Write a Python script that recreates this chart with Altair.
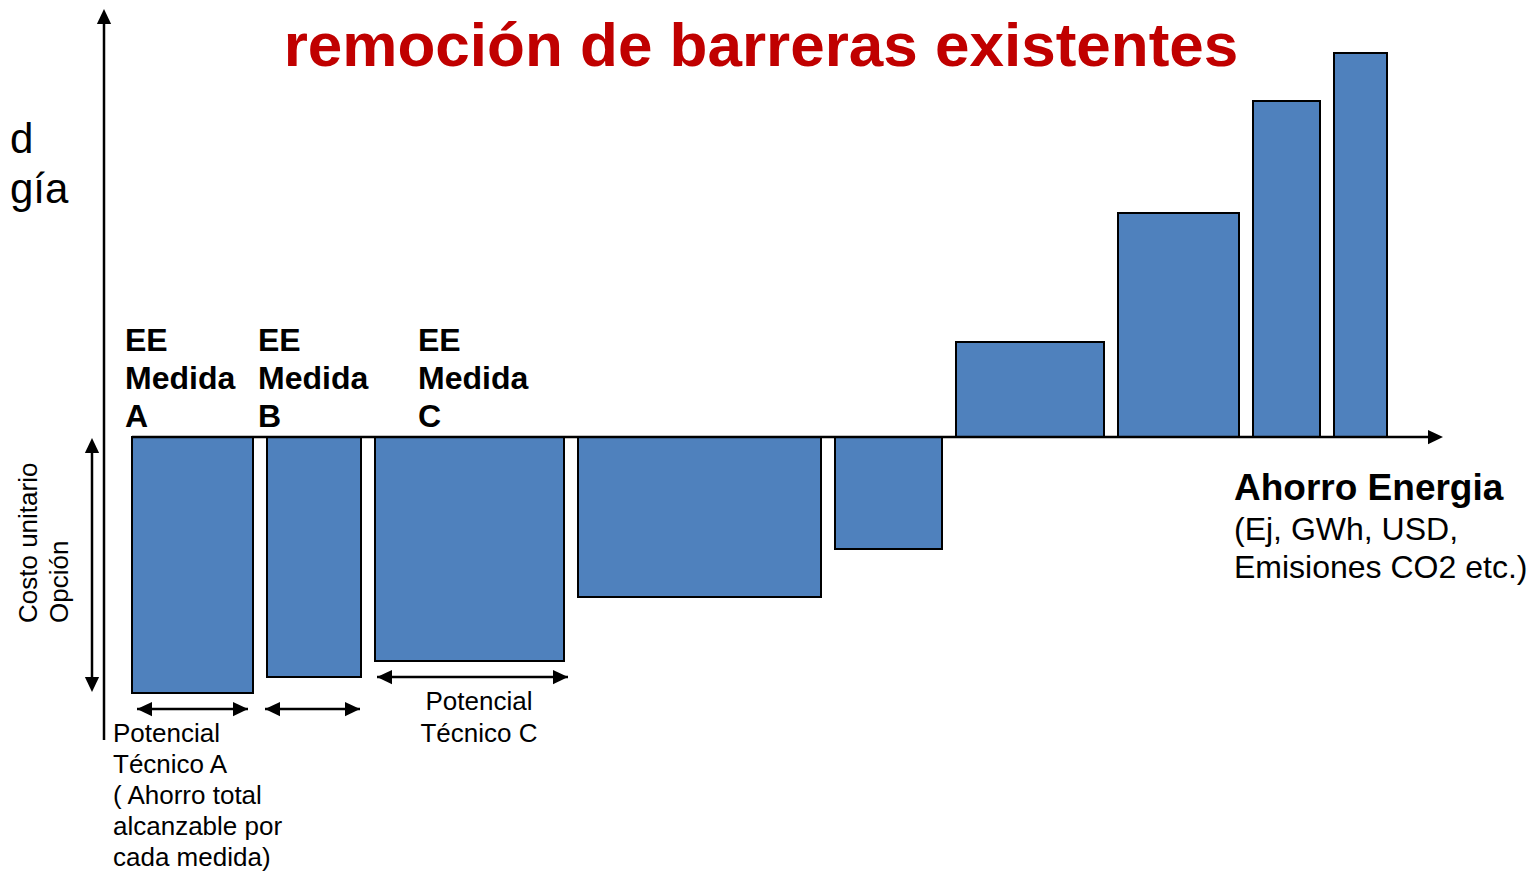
import altair as alt
import pandas as pd

# ---- data -------------------------------------------------------------
medidas = ["A", "B", "C", "D", "E", "F", "G", "H", "I"]
potencial = [121, 94, 189, 243, 107, 148, 121, 67, 53]      # ahorro (ancho)
costo = [-256, -240, -224, -160, -112, 95, 224, 336, 384]    # costo unitario
separacion = 14

x0 = []
pos = 0
for w in potencial:
    x0.append(pos)
    pos += w + separacion
bars = pd.DataFrame({
    "medida": medidas,
    "x0": x0,
    "x1": [a + w for a, w in zip(x0, potencial)],
    "y0": [0] * len(medidas),
    "y1": costo,
})

FONT = "Liberation Sans"
X = alt.Scale(domain=[-124, 1395], nice=False, zero=False)
Y = alt.Scale(domain=[-434, 429], nice=False, zero=False)

# ---- bars -------------------------------------------------------------
bar_layer = alt.Chart(bars).mark_rect(
    fill="#4F81BD", stroke="#000000", strokeWidth=2
).encode(
    x=alt.X("x0:Q", scale=X, axis=None),
    x2="x1:Q",
    y=alt.Y("y0:Q", scale=Y, axis=None),
    y2="y1:Q",
)

# ---- axis lines and double arrows --------------------------------------
lines = pd.DataFrame({
    "x": [-28, 0, -40, 5, 133, 245],
    "x2": [-28, 1300, -40, 116, 228, 436],
    "y": [-303, 0, -8, -272, -272, -240],
    "y2": [424, 0, -248, -272, -272, -240],
})
line_layer = alt.Chart(lines).mark_rule(color="#000000", strokeWidth=2.5).encode(
    x=alt.X("x:Q", scale=X), x2="x2:Q",
    y=alt.Y("y:Q", scale=Y), y2="y2:Q",
)

UP = "M0,-1L0.95,1L-0.95,1Z"
DOWN = "M0,1L0.95,-1L-0.95,-1Z"
RIGHT = "M1,0L-1,-0.95L-1,0.95Z"
LEFT = "M-1,0L1,-0.95L1,0.95Z"
half = 7.5
heads = pd.DataFrame({
    "x": [-28, 1311 - half, -40, -40, 5 + half, 116 - half, 133 + half, 228 - half, 245 + half, 436 - half],
    "y": [428 - half, 0, -1 - half, -255 + half, -272, -272, -272, -272, -240, -240],
    "shape": [UP, RIGHT, UP, DOWN, LEFT, RIGHT, LEFT, RIGHT, LEFT, RIGHT],
})
head_layer = alt.Chart(heads).mark_point(
    filled=True, color="#000000", opacity=1, size=225, strokeWidth=0
).encode(
    x=alt.X("x:Q", scale=X), y=alt.Y("y:Q", scale=Y),
    shape=alt.Shape("shape:N", scale=None),
)

# ---- texts ------------------------------------------------------------
def text_layer(rows, size, bold=False, color="#000000", align="left", line_height=None, angle=None):
    df = pd.DataFrame(rows, columns=["label", "x", "y"])
    kw = dict(font=FONT, fontSize=size, fontWeight="bold" if bold else "normal",
              color=color, align=align, baseline="alphabetic", lineBreak="\n")
    if line_height:
        kw["lineHeight"] = line_height
    if angle is not None:
        kw["angle"] = angle
    return alt.Chart(df).mark_text(**kw).encode(
        x=alt.X("x:Q", scale=X), y=alt.Y("y:Q", scale=Y), text="label:N"
    )

title = text_layer([("remoción de barreras existentes", 629, 371)], 62, bold=True,
                   color="#C00000", align="center")
left_cut = text_layer([("d", -122, 284), ("gía", -122, 234)], 42, align="left")
medida_lbl = text_layer([("EE\nMedida\nA", -7, 86), ("EE\nMedida\nB", 126, 86),
                         ("EE\nMedida\nC", 286, 86)], 32, bold=True, line_height=38)
ahorro = text_layer([("Ahorro Energia", 1102, -63)], 37, bold=True)
unidades = text_layer([("(Ej, GWh, USD,\nEmisiones CO2 etc.)", 1102, -103)], 32, line_height=38)
pot_a = text_layer([("Potencial\nTécnico A\n( Ahorro total\nalcanzable por\ncada medida)", -19, -305)],
                   26, line_height=31)
pot_c = text_layer([("Potencial\nTécnico C", 347, -273)], 26, align="center", line_height=32)
costo_lbl = text_layer([("Costo unitario\nOpción", -95, -186)], 26, line_height=31, angle=270)

chart = alt.layer(
    bar_layer, line_layer, head_layer,
    title, left_cut, medida_lbl, ahorro, unidades, pot_a, pot_c, costo_lbl,
).properties(
    width=1519, height=863, padding=0, autosize="none"
).configure_view(stroke=None)

chart.save("out.html", embed_options={"renderer": "svg", "actions": False})
